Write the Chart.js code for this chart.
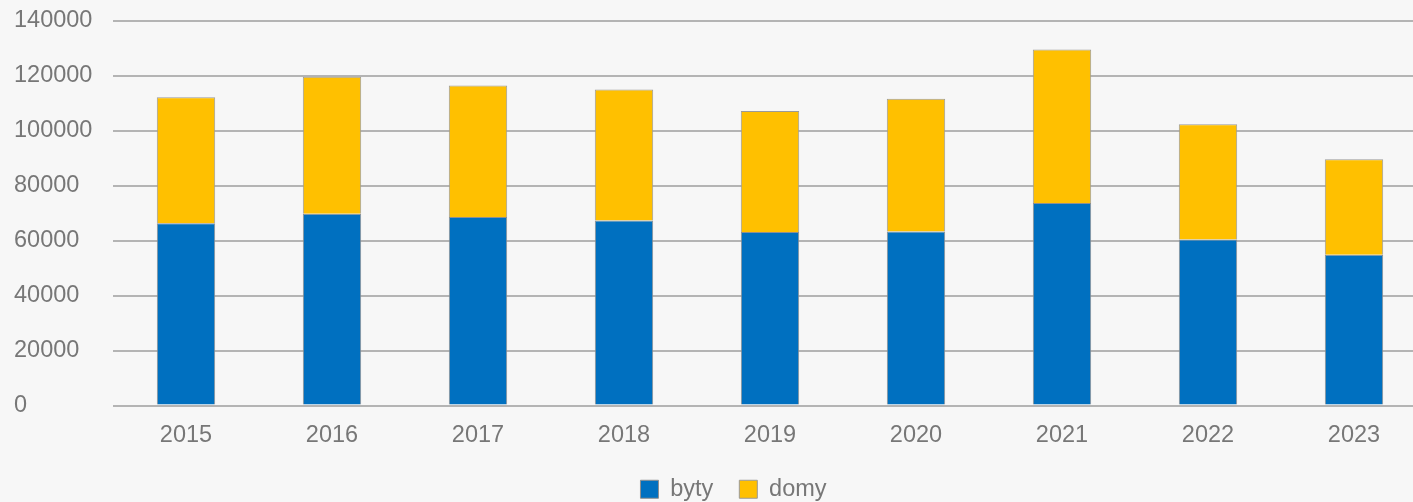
<!DOCTYPE html>
<html>
<head>
<meta charset="utf-8">
<script src="https://cdn.jsdelivr.net/npm/chart.js@4"></script>
<style>
    html, body { margin: 0; padding: 0; background: #f7f7f7; overflow: hidden; }
    #wrap { width: 1430px; height: 502px; position: relative; }
</style>
</head>
<body>
<div id="wrap"><canvas id="chart"></canvas></div>
<script>
// Data
const years = ['2015', '2016', '2017', '2018', '2019', '2020', '2021', '2022', '2023'];
const byty = [66400, 69800, 68600, 67400, 63200, 63400, 73700, 60400, 54900];
const domy = [45800, 49900, 47900, 47700, 44000, 48300, 55900, 42000, 34800];
const yTicks = [0, 20000, 40000, 60000, 80000, 100000, 120000, 140000];

const textColor = '#777777';
const gridColor = '#b4b4b4';
const font = { family: '"Liberation Sans", Arial, sans-serif', size: 23.5, lineHeight: 1.2 };

// legend in the original sits a bit right of the canvas centre
const legendShift = {
    id: 'legendShift',
    afterLayout(chart) {
        chart.legend.left += 13;
        chart.legend.right += 13;
    }
};

document.addEventListener('DOMContentLoaded', () => {
    const ctx = document.getElementById('chart').getContext('2d');
    new Chart(ctx, {
        type: 'bar',
        data: {
            labels: years,
            datasets: [{
                label: 'byty',
                data: byty,
                backgroundColor: '#0070c0',
                borderColor: '#8f8f8f',
                borderWidth: 1,
                borderSkipped: 'bottom'
            }, {
                label: 'domy',
                data: domy,
                backgroundColor: '#ffc000',
                borderColor: '#9a9a9a',
                borderWidth: 1,
                borderSkipped: 'bottom'
            }]
        },
        options: {
            responsive: true,
            maintainAspectRatio: false,
            animation: false,
            datasets: { bar: { barPercentage: 0.4, categoryPercentage: 1 } },
            layout: { padding: { left: 14, right: 3, top: 21, bottom: -9 } },
            plugins: {
                tooltip: { enabled: false },
                legend: {
                    position: 'bottom',
                    labels: {
                        color: textColor,
                        font: { ...font, lineHeight: 1 },
                        boxWidth: 18,
                        boxHeight: 18,
                        padding: 26
                    }
                }
            },
            scales: {
                x: {
                    stacked: true,
                    grid: { display: false },
                    border: { display: false },
                    ticks: { color: textColor, font: font, padding: 8, maxRotation: 0 },
                    afterFit: (scale) => { scale.height = 46; }
                },
                y: {
                    stacked: true,
                    min: 0,
                    max: yTicks[yTicks.length - 1],
                    afterBuildTicks: (scale) => { scale.ticks = yTicks.map(v => ({ value: v })); },
                    grid: { color: gridColor, lineWidth: 2, drawTicks: false },
                    border: { display: false },
                    ticks: {
                        color: textColor, font: font, crossAlign: 'far', padding: 0,
                        callback: (v) => String(v)
                    },
                    afterFit: (scale) => { scale.width = 99; }
                }
            }
        },
        plugins: [legendShift]
    });
});
</script>
</body>
</html>
